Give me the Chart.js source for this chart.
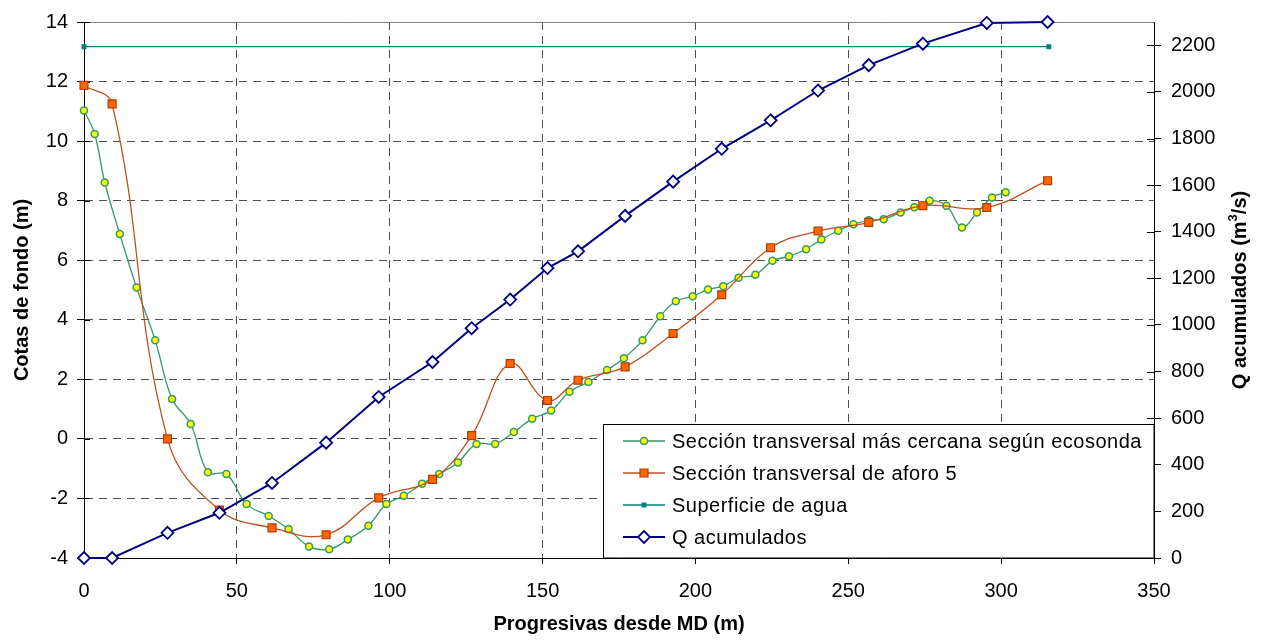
<!DOCTYPE html>
<html>
<head>
<meta charset="utf-8">
<script src="https://cdn.jsdelivr.net/npm/chart.js@4.4.1/dist/chart.umd.min.js"></script>
<style>
  html, body { margin: 0; padding: 0; background: #fff; }
  #wrap { width: 1262px; height: 640px; }
</style>
</head>
<body>
<div id="wrap"><canvas id="chart" width="1262" height="640"></canvas></div>
<script>
// progresivas (m) y cotas (m) de la seccion de ecosonda
const ecoX = [0, 3.5, 6.8, 11.7, 17.2, 23.3, 28.8, 34.9, 40.5, 46.6, 53.2, 60.4, 66.9, 73.6, 80.2,
  86.3, 93.0, 98.9, 104.6, 110.6, 116.2, 122.3, 128.4, 134.5, 140.6, 146.6, 152.8, 158.8, 165.0,
  171.1, 176.6, 182.7, 188.5, 193.6, 199.1, 204.1, 209.1, 214.1, 219.6, 225.2, 230.6, 236.2,
  241.2, 246.7, 251.7, 256.7, 261.6, 267.1, 271.6, 276.6, 282.1, 287.2, 292.1, 297.0, 301.5];
const ecoY = [11.03, 10.24, 8.61, 6.88, 5.08, 3.31, 1.34, 0.5, -1.12, -1.18, -2.19, -2.59, -3.03, -3.61, -3.71,
  -3.38, -2.92, -2.19, -1.91, -1.51, -1.18, -0.79, -0.17, -0.17, 0.23, 0.68, 0.95, 1.58, 1.91,
  2.31, 2.71, 3.31, 4.12, 4.62, 4.79, 5.02, 5.13, 5.41, 5.51, 5.98, 6.13, 6.37,
  6.70, 6.99, 7.21, 7.34, 7.38, 7.60, 7.78, 8.00, 7.83, 7.10, 7.60, 8.11, 8.28];

// seccion de aforo 5 (mismas progresivas que el Q acumulado)
const aforoX = [0, 9.2, 27.3, 44.3, 61.5, 79.2, 96.4, 114.0, 126.8, 139.4, 151.6, 161.6, 177.0,
  192.7, 208.6, 224.6, 240.1, 256.7, 274.4, 295.3, 315.2];
const aforoY = [11.87, 11.25, 0.0, -2.39, -2.99, -3.22, -1.98, -1.36, 0.11, 2.53, 1.29, 1.97, 2.42,
  3.54, 4.84, 6.42, 6.98, 7.27, 7.83, 7.77, 8.67];
const qAcum = [0, 0, 108, 194, 322, 495, 691, 841, 986, 1109, 1244, 1316, 1468,
  1615, 1756, 1878, 2006, 2115, 2207, 2296, 2300];

const aguaX = [0, 315.6];
const aguaY = [13.17, 13.17];

const xTicks = [0, 50, 100, 150, 200, 250, 300, 350];
const yTicks = [-4, -2, 0, 2, 4, 6, 8, 10, 12, 14];
const qTicks = [0, 200, 400, 600, 800, 1000, 1200, 1400, 1600, 1800, 2000, 2200];

const names = ['Sección transversal más cercana según ecosonda', 'Sección transversal de aforo 5',
  'Superficie de agua', 'Q acumulados'];

function pts(xs, ys) { return xs.map((x, i) => ({ x: x, y: ys[i] })); }

const FONT = "'Liberation Sans', Arial, Helvetica, sans-serif";
Chart.defaults.font.family = FONT;
Chart.defaults.font.size = 20;
Chart.defaults.color = '#000';

const GREEN = '#339966', ORANGE_LINE = '#BF4F1C', TEAL = '#008080', NAVY = '#000080';

function marker(ctx, kind, x, y) {
  ctx.beginPath();
  if (kind === 'circle') {
    ctx.arc(x, y, 3.5, 0, Math.PI * 2);
    ctx.fillStyle = '#FFFF00'; ctx.fill();
    ctx.lineWidth = 1.5; ctx.strokeStyle = GREEN; ctx.stroke();
  } else if (kind === 'square') {
    ctx.rect(x - 4, y - 4, 8, 8);
    ctx.fillStyle = '#FF6600'; ctx.fill();
    ctx.lineWidth = 1.2; ctx.strokeStyle = '#B03C00'; ctx.stroke();
  } else if (kind === 'small') {
    ctx.rect(x - 2.5, y - 2.5, 5, 5);
    ctx.fillStyle = TEAL; ctx.fill();
  } else {
    ctx.moveTo(x, y - 6); ctx.lineTo(x + 6, y); ctx.lineTo(x, y + 6); ctx.lineTo(x - 6, y); ctx.closePath();
    ctx.fillStyle = '#fff'; ctx.fill();
    ctx.lineWidth = 1.8; ctx.strokeStyle = NAVY; ctx.stroke();
  }
}

const legendRows = [
  { color: GREEN, width: 1.3, kind: 'circle' },
  { color: ORANGE_LINE, width: 1.3, kind: 'square' },
  { color: TEAL, width: 1.3, kind: 'small' },
  { color: NAVY, width: 2, kind: 'diamond' }
];

const decor = {
  id: 'decor',
  beforeDatasetsDraw(chart) {
    const ctx = chart.ctx, a = chart.chartArea;
    ctx.save();
    ctx.strokeStyle = '#808080';
    ctx.lineWidth = 1;
    ctx.beginPath();
    ctx.moveTo(a.left, a.top + 0.5);
    ctx.lineTo(a.right, a.top + 0.5);
    ctx.stroke();
    // inner half of the tick marks on both value axes
    ctx.strokeStyle = '#000';
    ctx.beginPath();
    chart.scales.y.ticks.forEach(t => {
      const py = Math.round(chart.scales.y.getPixelForValue(t.value)) + 0.5;
      ctx.moveTo(a.left, py); ctx.lineTo(a.left + 6, py);
    });
    chart.scales.y2.ticks.forEach(t => {
      const py = Math.round(chart.scales.y2.getPixelForValue(t.value)) + 0.5;
      ctx.moveTo(a.right - 7, py); ctx.lineTo(a.right, py);
    });
    ctx.stroke();
    ctx.restore();
  },
  afterDraw(chart) {
    const ctx = chart.ctx, a = chart.chartArea;
    ctx.save();
    // right axis title, read bottom to top
    ctx.translate(1240, (a.top + a.bottom) / 2);
    ctx.rotate(-Math.PI / 2);
    ctx.fillStyle = '#000';
    ctx.textBaseline = 'middle';
    ctx.textAlign = 'left';
    const big = 'bold 20px ' + FONT, small = 'bold 13px ' + FONT;
    const p1 = 'Q acumulados (m', p2 = '3', p3 = '/s)';
    ctx.font = big; const w1 = ctx.measureText(p1).width, w3 = ctx.measureText(p3).width;
    ctx.font = small; const w2 = ctx.measureText(p2).width;
    let x0 = -(w1 + w2 + w3) / 2;
    ctx.font = big; ctx.fillText(p1, x0, 0);
    ctx.font = small; ctx.fillText(p2, x0 + w1, -7);
    ctx.font = big; ctx.fillText(p3, x0 + w1 + w2, 0);
    ctx.restore();

    // legend box
    ctx.save();
    const L = 603.5, T = 424.5, R = a.right, B = a.bottom;
    ctx.fillStyle = '#fff';
    ctx.fillRect(L, T, R - L, B - T);
    ctx.strokeStyle = '#000';
    ctx.lineWidth = 1;
    ctx.strokeRect(L, T, R - L, B - T);
    ctx.font = '20px ' + FONT;
    ctx.letterSpacing = '0.5px';
    ctx.textBaseline = 'middle';
    legendRows.forEach((r, i) => {
      const yy = 441 + i * 32;
      ctx.beginPath();
      ctx.strokeStyle = r.color; ctx.lineWidth = r.width;
      ctx.moveTo(623, yy); ctx.lineTo(665, yy); ctx.stroke();
      marker(ctx, r.kind, 644, yy);
      ctx.fillStyle = '#000';
      ctx.fillText(names[i], 672, yy + 1);
    });
    ctx.restore();
  }
};

const edgeX = v => v === xTicks[0] || v === xTicks[xTicks.length - 1];
const edgeY = v => v === yTicks[0] || v === yTicks[yTicks.length - 1];

new Chart(document.getElementById('chart'), {
  type: 'scatter',
  data: {
    datasets: [
      {
        label: names[0], data: pts(ecoX, ecoY), yAxisID: 'y', showLine: true, tension: 0.4,
        borderColor: GREEN, borderWidth: 1.3, pointStyle: 'circle', pointRadius: 3.5,
        pointBackgroundColor: '#FFFF00', pointBorderColor: GREEN, pointBorderWidth: 1.5,
        clip: false, order: 4
      },
      {
        label: names[1], data: pts(aforoX, aforoY), yAxisID: 'y', showLine: true, tension: 0.4,
        borderColor: ORANGE_LINE, borderWidth: 1.3, pointStyle: 'rect', pointRadius: 5.6,
        pointBackgroundColor: '#FF6600', pointBorderColor: '#B03C00', pointBorderWidth: 1.2,
        clip: false, order: 3
      },
      {
        label: names[2], data: pts(aguaX, aguaY), yAxisID: 'y', showLine: true,
        borderColor: TEAL, borderWidth: 1.3, pointStyle: 'rect', pointRadius: 3.5,
        pointBackgroundColor: TEAL, pointBorderColor: TEAL, pointBorderWidth: 0,
        clip: false, order: 2
      },
      {
        label: names[3], data: pts(aforoX, qAcum), yAxisID: 'y2', showLine: true,
        borderColor: NAVY, borderWidth: 2, pointStyle: 'rectRot', pointRadius: 6,
        pointBackgroundColor: '#fff', pointBorderColor: NAVY, pointBorderWidth: 1.8,
        clip: false, order: 1
      }
    ]
  },
  options: {
    responsive: false,
    animation: false,
    events: [],
    layout: { padding: { top: 19, left: 0, right: 0, bottom: 0 } },
    plugins: { legend: { display: false }, tooltip: { enabled: false } },
    scales: {
      x: {
        type: 'linear', min: 0, max: 350,
        afterBuildTicks: s => { s.ticks = xTicks.map(v => ({ value: v })); },
        afterFit: s => { s.height = 82; },
        ticks: { autoSkip: false, maxRotation: 0, padding: 15, callback: v => String(v) },
        grid: {
          color: c => edgeX(c.tick.value) ? 'rgba(0,0,0,0)' : '#4d4d4d',
          lineWidth: 1, tickLength: 6, tickColor: '#000', tickBorderDash: []
        },
        border: { color: '#000', width: 1, dash: [8, 6] },
        title: { display: true, text: 'Progresivas desde MD (m)', font: { size: 20, weight: 'bold' }, padding: { top: 0, bottom: 4 } }
      },
      y: {
        type: 'linear', position: 'left', min: -4, max: 14,
        afterBuildTicks: s => { s.ticks = yTicks.map(v => ({ value: v })); },
        afterFit: s => { s.width = 84; },
        ticks: { padding: 9, callback: v => String(v) },
        grid: {
          color: c => edgeY(c.tick.value) ? 'rgba(0,0,0,0)' : '#4d4d4d',
          lineWidth: 1, tickLength: 7, tickColor: '#000', tickBorderDash: []
        },
        border: { color: '#000', width: 1, dash: [8, 6] },
        title: { display: true, text: 'Cotas de fondo (m)', font: { size: 20, weight: 'bold' }, padding: { top: 10, bottom: 0 } }
      },
      y2: {
        type: 'linear', position: 'right', min: 0, max: 2300,
        afterBuildTicks: s => { s.ticks = qTicks.map(v => ({ value: v })); },
        afterFit: s => { s.width = 108; },
        ticks: { padding: 10, callback: v => String(v) },
        grid: { drawOnChartArea: false, tickLength: 7, tickColor: '#000', tickBorderDash: [] },
        border: { color: '#000', width: 1 }
      }
    }
  },
  plugins: [decor]
});
</script>
</body>
</html>
